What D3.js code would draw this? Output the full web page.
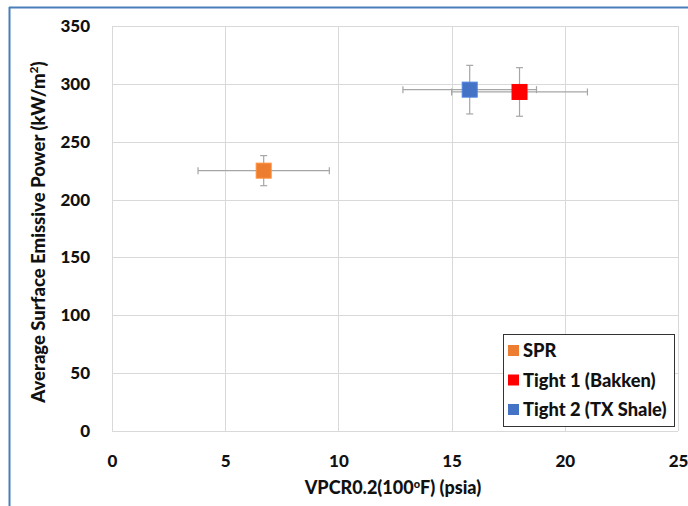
<!DOCTYPE html>
<html>
<head>
<meta charset="utf-8">
<script src="https://cdn.jsdelivr.net/npm/d3@7"></script>
<style>
  html, body { margin: 0; padding: 0; background: #fff; }
  svg { display: block; }
  text { font-family: Lato, "Open Sans", "Liberation Sans", sans-serif; font-weight: 900; fill: #111; }
</style>
</head>
<body>
<svg id="chart" width="688" height="506"></svg>
<script>
// ---- data ----
const seriesNames = ["SPR", "Tight 1 (Bakken)", "Tight 2 (TX Shale)"];
const seriesColors = ["#ED7D31", "#FF0000", "#4472C4"];
const xValues = [6.7, 18.0, 15.8];
const yValues = [225, 293, 295];
const xErrors = [2.9, 3.0, 2.95];
const yErrors = [13, 21, 21];
const xTicks = [0, 5, 10, 15, 20, 25];
const yTicks = [0, 50, 100, 150, 200, 250, 300, 350];

const svg = d3.select("#chart");
const W = 688, H = 506;
const plot = { left: 112, right: 678, top: 26, bottom: 431 };

svg.append("rect").attr("x", 0).attr("y", 0).attr("width", W).attr("height", H).attr("fill", "#fff");
svg.append("line").attr("x1", 9.5).attr("x2", 9.5).attr("y1", 7).attr("y2", H)
  .attr("stroke", "#4A7EBB").attr("stroke-width", 2);
svg.append("line").attr("x1", 9).attr("x2", W).attr("y1", 7.5).attr("y2", 7.5)
  .attr("stroke", "#4A7EBB").attr("stroke-width", 2);

const x = d3.scaleLinear().domain([0, 25]).range([plot.left, plot.right]);
const y = d3.scaleLinear().domain([0, 350]).range([plot.bottom, plot.top]);

const grid = svg.append("g");
grid.selectAll(".vg").data(xTicks).join("line")
  .attr("x1", d => Math.round(x(d)) + 0.5).attr("x2", d => Math.round(x(d)) + 0.5)
  .attr("y1", plot.top).attr("y2", plot.bottom)
  .attr("stroke", "#D9D9D9").attr("stroke-width", 1);
grid.selectAll(".hg").data(yTicks).join("line")
  .attr("x1", plot.left).attr("x2", plot.right)
  .attr("y1", d => Math.round(y(d)) + 0.5).attr("y2", d => Math.round(y(d)) + 0.5)
  .attr("stroke", "#D9D9D9").attr("stroke-width", 1);

const xAxis = svg.append("g").attr("transform", `translate(0,${plot.bottom + 21})`)
  .call(d3.axisBottom(x).tickValues(xTicks).tickSize(0).tickFormat(d3.format("d")));
xAxis.select(".domain").remove();
xAxis.selectAll("text").attr("font-size", 17).attr("font-family", "Lato, sans-serif").attr("font-weight", 900).attr("fill", "#111").attr("dy", "0.71em");

const yAxis = svg.append("g").attr("transform", `translate(${plot.left - 19},0)`)
  .call(d3.axisLeft(y).tickValues(yTicks).tickSize(0).tickFormat(d3.format("d")));
yAxis.select(".domain").remove();
yAxis.selectAll("text").attr("font-size", 17).attr("font-family", "Lato, sans-serif").attr("font-weight", 900).attr("fill", "#111");

const xt = svg.append("text").attr("x", 393).attr("y", 494).attr("text-anchor", "middle").attr("font-size", 18).attr("font-weight", "bold");
xt.append("tspan").text("VPCR0.2(100");
xt.append("tspan").attr("baseline-shift", "super").attr("font-size", 11).text("o");
xt.append("tspan").text("F) (psia)");

const yt = svg.append("text").attr("transform", `translate(45,232) rotate(-90)`)
  .attr("text-anchor", "middle").attr("font-size", 18.5).attr("font-weight", "bold");
yt.append("tspan").text("Average Surface Emissive Power (kW/m");
yt.append("tspan").attr("baseline-shift", "super").attr("font-size", 12).text("2");
yt.append("tspan").text(")");

const pts = seriesNames.map((n, i) => ({ name: n, color: seriesColors[i], x: xValues[i], y: yValues[i], ex: xErrors[i], ey: yErrors[i] }));
const eb = svg.append("g").attr("stroke", "#A6A6A6").attr("stroke-width", 1.2).attr("fill", "none");
pts.forEach(p => {
  const cx = x(p.x), cy = y(p.y);
  const x0 = x(p.x - p.ex), x1 = x(p.x + p.ex), y0 = y(p.y - p.ey), y1 = y(p.y + p.ey);
  eb.append("line").attr("x1", x0).attr("x2", x1).attr("y1", cy).attr("y2", cy);
  eb.append("line").attr("x1", x0).attr("x2", x0).attr("y1", cy - 3.5).attr("y2", cy + 3.5);
  eb.append("line").attr("x1", x1).attr("x2", x1).attr("y1", cy - 3.5).attr("y2", cy + 3.5);
  eb.append("line").attr("x1", cx).attr("x2", cx).attr("y1", y0).attr("y2", y1);
  eb.append("line").attr("x1", cx - 3.5).attr("x2", cx + 3.5).attr("y1", y0).attr("y2", y0);
  eb.append("line").attr("x1", cx - 3.5).attr("x2", cx + 3.5).attr("y1", y1).attr("y2", y1);
});

const ms = 15;
svg.append("g").selectAll("rect").data(pts).join("rect")
  .attr("x", d => x(d.x) - ms / 2).attr("y", d => y(d.y) - ms / 2)
  .attr("width", ms).attr("height", ms)
  .attr("fill", d => d.color)
  .attr("stroke", d => d3.color(d.color).brighter(0.4)).attr("stroke-width", 1);

const lg = svg.append("g");
lg.append("rect").attr("x", 503.5).attr("y", 334.5).attr("width", 171).attr("height", 92)
  .attr("fill", "#fff").attr("stroke", "#333").attr("stroke-width", 1);
pts.forEach((p, i) => {
  const ly = 351 + i * 29.5;
  lg.append("rect").attr("x", 508).attr("y", ly - 6).attr("width", 11).attr("height", 11).attr("fill", p.color);
  lg.append("text").attr("x", 523).attr("y", ly).attr("dy", "0.35em").attr("font-size", 18.3).attr("font-weight", "bold").text(p.name);
});
</script>
</body>
</html>
